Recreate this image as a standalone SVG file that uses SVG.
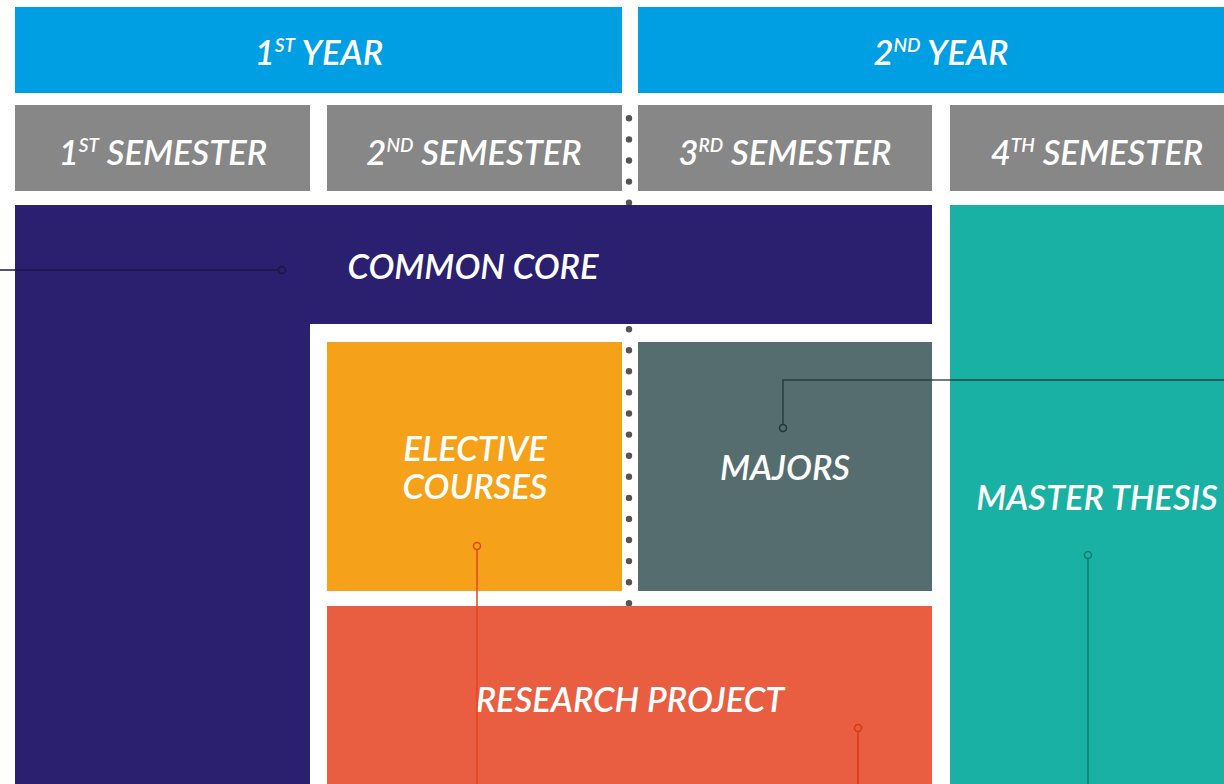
<svg xmlns="http://www.w3.org/2000/svg" width="1224" height="784" viewBox="0 0 1224 784">
<style>
.t{font-family:Lato,"Open Sans","Liberation Sans",sans-serif;font-style:italic;font-weight:600;fill:#fff;text-anchor:middle;font-size:34.5px}
.sup{font-size:19px}
.dot{fill:#555}
.conn{fill:none;stroke-width:1.5}
</style>
<rect width="1224" height="784" fill="#fff"/>
<g id="dots">
<circle class="dot" cx="629" cy="118.3" r="3.2"/><circle class="dot" cx="629" cy="139.4" r="3.2"/><circle class="dot" cx="629" cy="160.5" r="3.2"/><circle class="dot" cx="629" cy="181.6" r="3.2"/><circle class="dot" cx="629" cy="202.7" r="3.2"/><circle class="dot" cx="629" cy="223.7" r="3.2"/><circle class="dot" cx="629" cy="244.8" r="3.2"/><circle class="dot" cx="629" cy="265.9" r="3.2"/><circle class="dot" cx="629" cy="287" r="3.2"/><circle class="dot" cx="629" cy="308.1" r="3.2"/><circle class="dot" cx="629" cy="329.2" r="3.2"/><circle class="dot" cx="629" cy="350.3" r="3.2"/><circle class="dot" cx="629" cy="371.3" r="3.2"/><circle class="dot" cx="629" cy="392.4" r="3.2"/><circle class="dot" cx="629" cy="413.5" r="3.2"/><circle class="dot" cx="629" cy="434.6" r="3.2"/><circle class="dot" cx="629" cy="455.7" r="3.2"/><circle class="dot" cx="629" cy="476.8" r="3.2"/><circle class="dot" cx="629" cy="497.9" r="3.2"/><circle class="dot" cx="629" cy="518.9" r="3.2"/><circle class="dot" cx="629" cy="540" r="3.2"/><circle class="dot" cx="629" cy="561.1" r="3.2"/><circle class="dot" cx="629" cy="582.2" r="3.2"/><circle class="dot" cx="629" cy="603.3" r="3.2"/>
</g>
<g id="year1"><rect x="15" y="7" width="607" height="86" fill="#009FE3"/><text class="t" x="319" y="65">1<tspan class="sup" dy="-13">ST</tspan><tspan dy="13"> YEAR</tspan></text></g>
<g id="year2"><rect x="638" y="7" width="606" height="86" fill="#009FE3"/><text class="t" x="941" y="65">2<tspan class="sup" dy="-13">ND</tspan><tspan dy="13"> YEAR</tspan></text></g>
<g id="sem1"><rect x="15" y="105" width="295" height="86" fill="#878787"/><text class="t" x="163" y="165">1<tspan class="sup" dy="-13">ST</tspan><tspan dy="13"> SEMESTER</tspan></text></g>
<g id="sem2"><rect x="327" y="105" width="295" height="86" fill="#878787"/><text class="t" x="474" y="165">2<tspan class="sup" dy="-13">ND</tspan><tspan dy="13"> SEMESTER</tspan></text></g>
<g id="sem3"><rect x="638" y="105" width="294" height="86" fill="#878787"/><text class="t" x="785" y="165">3<tspan class="sup" dy="-13">RD</tspan><tspan dy="13"> SEMESTER</tspan></text></g>
<g id="sem4"><rect x="950" y="105" width="294" height="86" fill="#878787"/><text class="t" x="1097" y="165">4<tspan class="sup" dy="-13">TH</tspan><tspan dy="13"> SEMESTER</tspan></text></g>
<g id="common-core"><path d="M15 205H932V324H310V784H15Z" fill="#2B2070"/><text class="t" x="473" y="279">COMMON CORE</text></g>
<g id="electives"><rect x="327" y="342" width="295" height="249" fill="#F5A11A"/><text class="t" x="475" y="461">ELECTIVE</text><text class="t" x="475" y="499">COURSES</text></g>
<g id="majors"><rect x="638" y="342" width="294" height="249" fill="#566D70"/><text class="t" x="785" y="480">MAJORS</text></g>
<g id="thesis"><rect x="950" y="205" width="294" height="579" fill="#18B1A3"/><text class="t" x="1097" y="510">MASTER THESIS</text></g>
<g id="research"><rect x="327" y="606" width="605" height="178" fill="#E95D40"/><text class="t" x="630" y="712">RESEARCH PROJECT</text></g>
<g id="connectors">
<path class="conn" d="M0 270H278.5" stroke="#1a1840"/><circle class="conn" cx="282" cy="270" r="3.5" stroke="#1a1840"/>
<path class="conn" d="M1224 380H783V424.5" stroke="#1e3636" stroke-opacity="0.85"/><circle class="conn" cx="783" cy="428" r="3.5" stroke="#1e3636"/>
<path class="conn" d="M477 549.5V784" stroke="#E4461A"/><circle class="conn" cx="477" cy="546" r="3.5" stroke="#E4461A"/>
<path class="conn" d="M858 731.5V784" stroke="#D63A12"/><circle class="conn" cx="858" cy="728" r="3.5" stroke="#D63A12"/>
<path class="conn" d="M1088 558.5V784" stroke="#0E7F70"/><circle class="conn" cx="1088" cy="555" r="3.5" stroke="#0E7F70"/>
</g>
</svg>
